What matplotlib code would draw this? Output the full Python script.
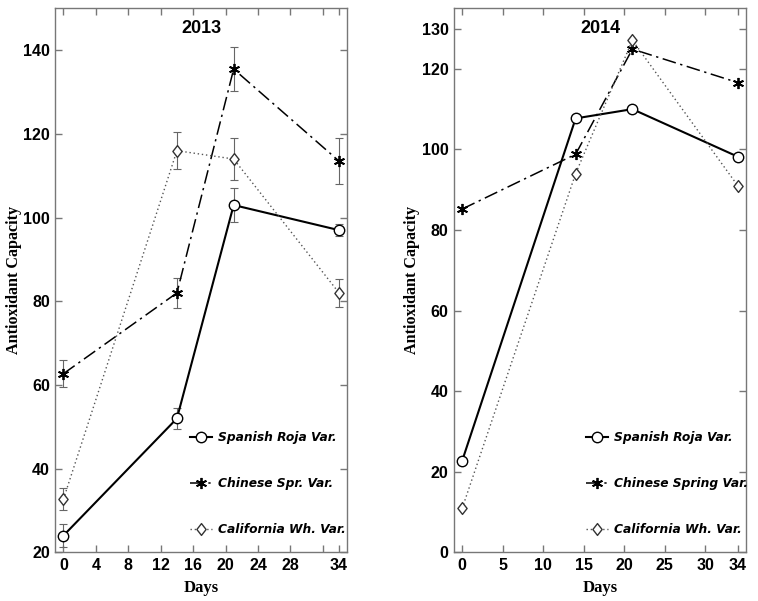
import numpy as np
import matplotlib
matplotlib.use('Agg')
import matplotlib.pyplot as plt
from matplotlib.path import Path

days = [0, 14, 21, 34]
labels_2013 = ['Spanish Roja Var.', 'Chinese Spr. Var.', 'California Wh. Var.']
labels_2014 = ['Spanish Roja Var.', 'Chinese Spring Var.', 'California Wh. Var.']

# 2013 valeurs + barres d'erreur
roja_2013 = [24, 52, 103, 97]
roja_2013_err = [2.7, 2.5, 4, 1.5]
chinese_2013 = [62.7, 82, 135.5, 113.5]
chinese_2013_err = [3.3, 3.5, 5.2, 5.5]
calif_2013 = [32.7, 116, 114, 82]
calif_2013_err = [2.6, 4.5, 5, 3.3]

# 2014 valeurs (sans barres d'erreur)
roja_2014 = [22.7, 107.7, 110, 98.2]
chinese_2014 = [85.2, 98.8, 124.9, 116.6]
calif_2014 = [10.9, 94, 127.1, 91]

xticks_2013 = [0, 4, 8, 12, 16, 20, 24, 28, 32, 34]
xticklabels_2013 = ['0', '4', '8', '12', '16', '20', '24', '28', '', '34']
yticks_2013 = [20, 40, 60, 80, 100, 120, 140]
xticks_2014 = [0, 5, 10, 15, 20, 25, 30, 34]
yticks_2014 = [0, 20, 40, 60, 80, 100, 120, 130]

SPINE = '#777777'
ASTER = (6, 2, 0)
# losange un peu aplati
DIAMOND = Path([(0, 1), (0.78, 0), (0, -1), (-0.78, 0), (0, 1)],
               [Path.MOVETO, Path.LINETO, Path.LINETO, Path.LINETO, Path.CLOSEPOLY])

styles = [
    dict(color='black', lw=1.5, ls='-', marker='o', ms=7.5, mfc='white', mec='black', mew=1.0),
    dict(color='black', lw=1.1, ls=(0, (9, 3, 1.5, 3)), marker=ASTER, ms=8, mec='black', mew=1.3),
    dict(color='#555555', lw=1.0, ls=(0, (1, 2)), marker=DIAMOND, ms=8.5, mfc='white', mec='#333333', mew=1.0),
]


def style_axes(ax, xticks, xticklabels, yticks, xlim, ylim, title):
    ax.set_xlim(*xlim)
    ax.set_ylim(*ylim)
    ax.set_xticks(xticks)
    ax.set_xticklabels(xticklabels)
    ax.set_yticks(yticks)
    for s in ax.spines.values():
        s.set_color(SPINE)
        s.set_linewidth(1.0)
    ax.tick_params(direction='in', top=True, right=True, length=5, width=1.0,
                   color=SPINE, labelsize=11.5, pad=4)
    for lab in ax.get_xticklabels() + ax.get_yticklabels():
        lab.set_fontfamily('Liberation Sans')
        lab.set_fontweight('bold')
    ax.text(0.5, 0.963, title, transform=ax.transAxes, ha='center', va='center',
            fontsize=13, fontweight='bold', family='Liberation Sans')
    ax.set_xlabel('Days', family='Liberation Serif', fontweight='bold', fontsize=12, labelpad=5)
    ax.set_ylabel('Antioxidant Capacity', family='Liberation Serif', fontweight='bold',
                  fontsize=11.6, labelpad=1)


def add_legend(ax, handles, labels, cx):
    leg = ax.legend(handles, labels, loc='center', bbox_to_anchor=(cx, 0.126),
                    frameon=False, numpoints=1, handlelength=1.8, handletextpad=0.5,
                    labelspacing=2.7, borderaxespad=0,
                    prop=dict(family='DejaVu Sans', weight='bold', style='italic', size=8.8))
    return leg


fig = plt.figure(figsize=(7.58, 6.01), dpi=100)
ax1 = fig.add_axes([0.073, 0.081, 0.385, 0.905])
ax2 = fig.add_axes([0.599, 0.081, 0.385, 0.905])

# panneau 2013
hs = []
for vals, errs, st in zip([roja_2013, chinese_2013, calif_2013],
                          [roja_2013_err, chinese_2013_err, calif_2013_err], styles):
    ax1.errorbar(days, vals, yerr=errs, fmt='none', ecolor='#666666', elinewidth=0.8,
                 capsize=3, capthick=0.8, zorder=2)
    h, = ax1.plot(days, vals, zorder=3, **st)
    hs.append(h)
style_axes(ax1, xticks_2013, xticklabels_2013, yticks_2013, (-1, 35), (20, 150), '2013')
add_legend(ax1, hs, labels_2013, 0.727)

# panneau 2014
hs = []
for vals, st in zip([roja_2014, chinese_2014, calif_2014], styles):
    h, = ax2.plot(days, vals, zorder=3, **st)
    hs.append(h)
style_axes(ax2, xticks_2014, [str(t) for t in xticks_2014], yticks_2014, (-1, 35), (0, 135), '2014')
add_legend(ax2, hs, labels_2014, 0.731)

plt.savefig('out.png', dpi=100)
plt.close()
